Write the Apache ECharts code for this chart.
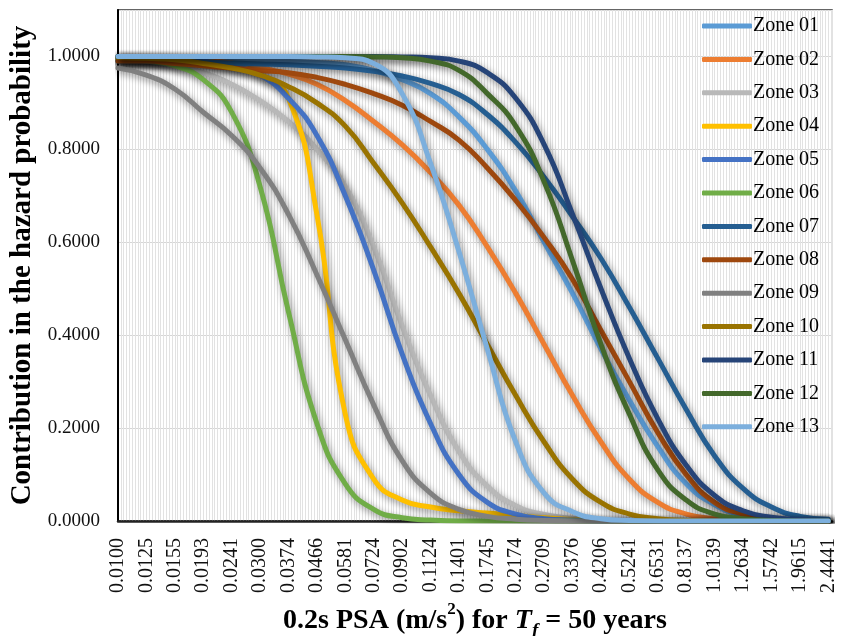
<!DOCTYPE html>
<html>
<head>
<meta charset="utf-8">
<script src="https://cdn.jsdelivr.net/npm/echarts@6/dist/echarts.min.js"></script>
<style>
  html, body { margin: 0; padding: 0; background: #fff; }
  #chart { width: 851px; height: 636px; }
</style>
</head>
<body>
<div id="chart"></div>
<script>
// x tick labels (PSA, m/s2), one per label position
const xLabels = ['0.0100', '0.0125', '0.0155', '0.0193', '0.0241', '0.0300', '0.0374', '0.0466', '0.0581',
  '0.0724', '0.0902', '0.1124', '0.1401', '0.1745', '0.2174', '0.2709', '0.3376', '0.4206', '0.5241',
  '0.6531', '0.8137', '1.0139', '1.2634', '1.5742', '1.9615', '2.4441']

const zoneNames = ['Zone 01', 'Zone 02', 'Zone 03', 'Zone 04', 'Zone 05', 'Zone 06', 'Zone 07',
  'Zone 08', 'Zone 09', 'Zone 10', 'Zone 11', 'Zone 12', 'Zone 13']

// contribution values read at each x label
const zone01 = [1.0, 0.999, 0.998, 0.997, 0.995, 0.993, 0.99, 0.987, 0.982, 0.97, 0.95, 0.92, 0.87, 0.80, 0.71, 0.60, 0.49, 0.37, 0.26, 0.16, 0.08, 0.035, 0.012, 0.004, 0.001, 0.0]
const zone02 = [0.999, 0.998, 0.996, 0.992, 0.986, 0.976, 0.962, 0.94, 0.905, 0.86, 0.81, 0.75, 0.68, 0.59, 0.49, 0.38, 0.27, 0.17, 0.09, 0.04, 0.015, 0.005, 0.002, 0.0, 0.0, 0.0]
const zone03 = [0.995, 0.99, 0.98, 0.965, 0.94, 0.905, 0.86, 0.80, 0.72, 0.59, 0.42, 0.27, 0.15, 0.075, 0.033, 0.014, 0.006, 0.002, 0.0, 0.0, 0.0, 0.0, 0.0, 0.0, 0.0, 0.0]
const zone04 = [0.998, 0.997, 0.995, 0.99, 0.98, 0.96, 0.91, 0.66, 0.23, 0.09, 0.045, 0.03, 0.022, 0.017, 0.012, 0.007, 0.003, 0.001, 0.0, 0.0, 0.0, 0.0, 0.0, 0.0, 0.0, 0.0]
const zone05 = [0.998, 0.997, 0.995, 0.99, 0.98, 0.96, 0.91, 0.83, 0.70, 0.54, 0.36, 0.21, 0.10, 0.04, 0.015, 0.005, 0.002, 0.0, 0.0, 0.0, 0.0, 0.0, 0.0, 0.0, 0.0, 0.0]
const zone06 = [0.995, 0.99, 0.98, 0.95, 0.88, 0.72, 0.45, 0.21, 0.08, 0.025, 0.007, 0.002, 0.0, 0.0, 0.0, 0.0, 0.0, 0.0, 0.0, 0.0, 0.0, 0.0, 0.0, 0.0, 0.0, 0.0]
const zone07 = [0.99, 0.99, 0.99, 0.988, 0.986, 0.984, 0.982, 0.979, 0.975, 0.968, 0.958, 0.942, 0.918, 0.875, 0.815, 0.74, 0.655, 0.565, 0.46, 0.35, 0.24, 0.14, 0.07, 0.03, 0.01, 0.004]
const zone08 = [0.99, 0.99, 0.985, 0.98, 0.975, 0.97, 0.965, 0.955, 0.94, 0.92, 0.895, 0.86, 0.82, 0.76, 0.69, 0.61, 0.52, 0.41, 0.30, 0.19, 0.10, 0.04, 0.015, 0.005, 0.001, 0.0]
const zone09 = [0.975, 0.96, 0.93, 0.88, 0.83, 0.76, 0.66, 0.53, 0.39, 0.25, 0.13, 0.06, 0.025, 0.01, 0.004, 0.001, 0.0, 0.0, 0.0, 0.0, 0.0, 0.0, 0.0, 0.0, 0.0, 0.0]
const zone10 = [0.998, 0.996, 0.993, 0.985, 0.975, 0.96, 0.935, 0.90, 0.85, 0.77, 0.685, 0.59, 0.49, 0.38, 0.27, 0.17, 0.09, 0.04, 0.015, 0.005, 0.001, 0.0, 0.0, 0.0, 0.0, 0.0]
const zone11 = [1.0, 1.0, 1.0, 1.0, 1.0, 1.0, 1.0, 1.0, 1.0, 1.0, 0.999, 0.997, 0.99, 0.965, 0.91, 0.81, 0.66, 0.50, 0.35, 0.22, 0.12, 0.055, 0.022, 0.008, 0.003, 0.001]
const zone12 = [1.0, 1.0, 1.0, 1.0, 1.0, 1.0, 1.0, 1.0, 1.0, 0.999, 0.997, 0.99, 0.97, 0.92, 0.85, 0.73, 0.56, 0.38, 0.23, 0.11, 0.045, 0.015, 0.005, 0.001, 0.0, 0.0]
const zone13 = [1.0, 1.0, 1.0, 1.0, 1.0, 1.0, 1.0, 0.999, 0.997, 0.985, 0.92, 0.77, 0.58, 0.37, 0.17, 0.06, 0.02, 0.005, 0.001, 0.0, 0.0, 0.0, 0.0, 0.0, 0.0, 0.0]

const zoneData = [zone01, zone02, zone03, zone04, zone05, zone06, zone07, zone08, zone09, zone10, zone11, zone12, zone13]

// excel style palette
const colorList = ['#5B9BD5', '#ED7D31', '#B8B8B8', '#FFC000', '#4472C4', '#70AD47', '#255E91',
  '#9E480E', '#808080', '#997300', '#264478', '#43682B', '#7CAFDD']

const font = 'Liberation Serif'

let myChart = echarts.init(document.getElementById('chart'))

let series = zoneData.map((arr, k) => ({
  name: zoneNames[k],
  type: 'line',
  smooth: true,
  symbol: 'none',
  data: arr.map((v, i) => [i, v]),
  itemStyle: { color: colorList[k] },
  lineStyle: {
    color: colorList[k],
    width: 5,
    cap: 'round',
    shadowColor: 'rgba(0, 0, 0, 0.45)',
    shadowBlur: 7,
    shadowOffsetX: 2,
    shadowOffsetY: 3
  }
}))

myChart.setOption({
  animation: false,
  backgroundColor: '#fff',
  legend: {
    data: zoneNames,
    orient: 'vertical',
    left: 697,
    top: 11,
    icon: 'roundRect',
    itemWidth: 50,
    itemHeight: 5,
    itemGap: 13.4,
    textStyle: { fontFamily: font, fontSize: 20, color: '#000', lineHeight: 20, padding: [0, 0, 0, -4] }
  },
  grid: {
    left: 118,
    right: 19,
    top: 10,
    bottom: 115,
    outerBoundsMode: 'none',
    containLabel: false,
    show: true,
    borderColor: '#333',
    borderWidth: 1.5
  },
  xAxis: {
    type: 'value',
    min: 0,
    max: 25.13,
    interval: 1,
    name: '0.2s PSA (m/s{sup|2}) for {it|T}{sub|f} = 50 years',
    nameLocation: 'middle',
    nameGap: 73,
    nameTextStyle: {
      fontFamily: font,
      fontSize: 28,
      fontWeight: 'bold',
      color: '#000',
      rich: {
        sup: { fontFamily: font, fontSize: 17, fontWeight: 'bold', color: '#000', verticalAlign: 'top', lineHeight: 26 },
        sub: { fontFamily: font, fontSize: 19, fontWeight: 'bold', fontStyle: 'italic', color: '#000', verticalAlign: 'bottom', lineHeight: 40 },
        it: { fontFamily: font, fontSize: 28, fontWeight: 'bold', fontStyle: 'italic', color: '#000' }
      }
    },
    axisLine: { show: true, lineStyle: { color: '#222', width: 2.5 } },
    axisTick: { show: false },
    axisLabel: {
      rotate: 90,
      margin: 17,
      showMaxLabel: false,
      fontFamily: font,
      fontSize: 20,
      color: '#111',
      formatter: v => xLabels[Math.round(v)] || ''
    },
    splitLine: { show: true, lineStyle: { color: '#e2e2e2', width: 1 } },
    minorTick: { show: false, splitNumber: 10 },
    minorSplitLine: { show: true, lineStyle: { color: '#e2e2e2', width: 1 } }
  },
  yAxis: {
    type: 'value',
    min: 0,
    max: 1.1,
    interval: 0.2,
    name: 'Contribution in the hazard probability',
    nameLocation: 'middle',
    nameGap: 80,
    nameTextStyle: { fontFamily: font, fontSize: 29, fontWeight: 'bold', color: '#000' },
    axisLine: { show: true, lineStyle: { color: '#000', width: 2 } },
    axisTick: { show: false },
    axisLabel: {
      margin: 18,
      showMaxLabel: false,
      fontFamily: font,
      fontSize: 19,
      color: '#111',
      formatter: v => v.toFixed(4)
    },
    splitLine: { show: true, lineStyle: { color: '#d6d6d6', width: 1 } }
  },
  series: series
})
</script>
</body>
</html>
